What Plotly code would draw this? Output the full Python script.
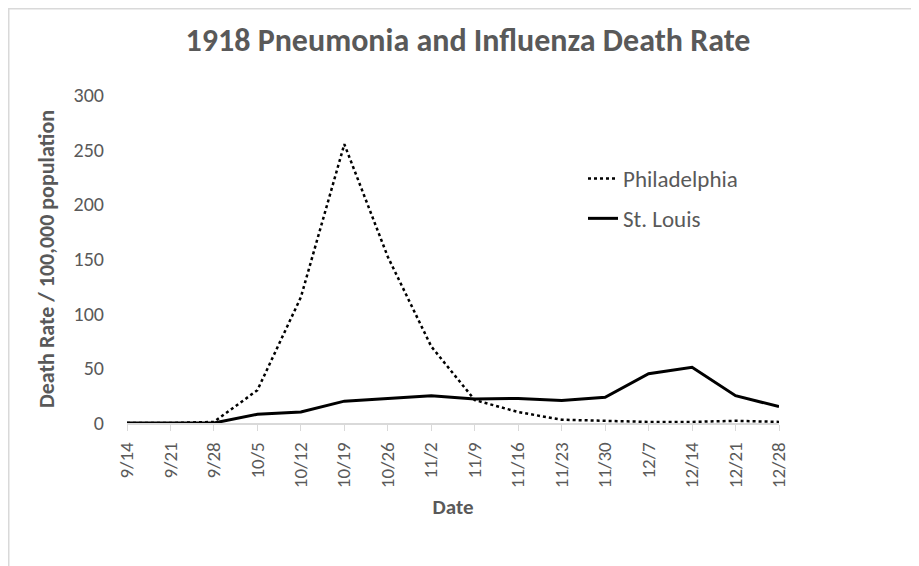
import plotly.graph_objects as go

dates = ["9/14", "9/21", "9/28", "10/5", "10/12", "10/19", "10/26", "11/2",
         "11/9", "11/16", "11/23", "11/30", "12/7", "12/14", "12/21", "12/28"]
philadelphia = [0, 0, 1, 30, 115, 255, 152, 70, 21, 10, 3, 2, 1, 1, 2, 1]
st_louis = [0, 0, 0, 8, 10, 20, 22.5, 25, 22, 22.5, 20.5, 23.5, 45, 51, 25, 15]

# page body has an 8px margin, so the figure is 8px smaller and offset
OFF = 8
W, H = 919 - OFF, 566 - OFF
L, T = 127 - OFF, 95 - OFF
pw, ph = 652, 328
R, B = W - L - pw, H - T - ph

gray = "#595959"
font = "Calibri, Carlito, Lato, sans-serif"

fig = go.Figure()
fig.add_trace(go.Scatter(x=list(range(len(dates))), y=philadelphia, mode="lines",
                         name="Philadelphia", legendgroup="a",
                         line=dict(color="black", width=2.5, dash="dot")))
fig.add_trace(go.Scatter(x=list(range(len(dates))), y=st_louis, mode="lines",
                         name="St. Louis", legendgroup="b",
                         line=dict(color="black", width=3)))

def px_x(v):  # figure pixel -> paper
    return (v - L) / pw

def px_y(v):
    return (T + ph - v) / ph

fig.add_shape(type="rect", xref="paper", yref="paper",
              x0=px_x(0.75), x1=px_x(W + 20), y0=px_y(H + 20), y1=px_y(0.75),
              line=dict(color="#d9d9d9", width=1.5), fillcolor="rgba(0,0,0,0)",
              layer="below")

fig.update_layout(
    width=W, height=H,
    margin=dict(l=L, r=R, t=T, b=B, autoexpand=False),
    paper_bgcolor="white", plot_bgcolor="white",
    title=dict(text="<b>1918 Pneumonia and Influenza Death Rate</b>",
               xref="container", yref="container",
               x=(468 - OFF) / W, xanchor="center", y=1 - (40 - OFF) / H, yanchor="middle",
               font=dict(family=font, size=32, color=gray)),
    xaxis=dict(tickmode="array", tickvals=list(range(len(dates))), ticktext=dates,
               range=[0, len(dates) - 1], tickangle=-90, automargin=False,
               showline=True, linecolor="#d9d9d9", linewidth=1.5,
               ticks="outside", ticklen=6, tickcolor="#d9d9d9",
               ticklabelstandoff=4,
               showgrid=False, zeroline=False,
               tickfont=dict(family=font, size=19, color=gray),
               title=dict(text="<b>Date</b>", standoff=12,
                          font=dict(family=font, size=21, color=gray))),
    yaxis=dict(range=[0, 300], tickvals=[0, 50, 100, 150, 200, 250, 300],
               showgrid=False, zeroline=False, showline=False, automargin=False,
               ticks="", ticklabelstandoff=22,
               tickfont=dict(family=font, size=20, color=gray),
               title=dict(text="<b>Death Rate / 100,000 population</b>", standoff=12,
                          font=dict(family=font, size=22, color=gray))),
    legend=dict(x=px_x(591 - 2 * OFF), y=px_y(157 - OFF), xanchor="left", yanchor="top",
                traceorder="grouped", tracegroupgap=7,
                bgcolor="rgba(0,0,0,0)",
                font=dict(family=font, size=23, color=gray)),
    showlegend=True,
)

fig.write_html("out.html")
